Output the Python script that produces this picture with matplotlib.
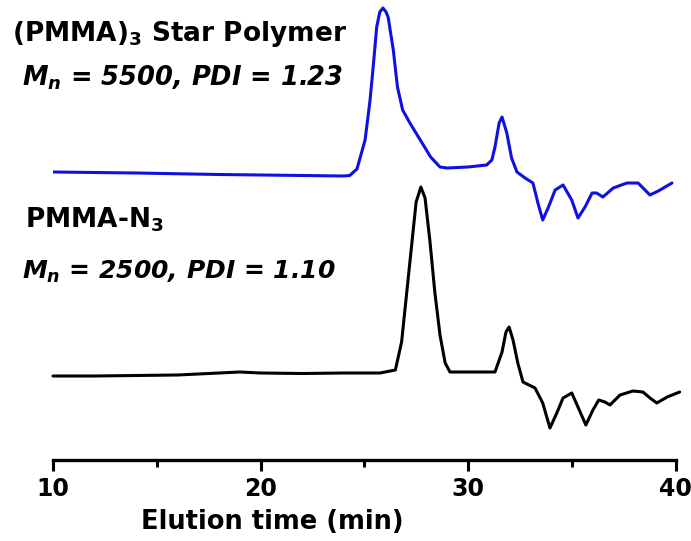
import numpy as np
import matplotlib.pyplot as plt

'''
Data read off the chromatogram (elution time in min, detector signal in a.u.)
'''
star_time = [10, 14, 18, 22, 24, 24.3, 24.65, 25.04, 25.28, 25.43, 25.6, 25.75,
             25.9, 26.05, 26.15, 26.4, 26.6, 26.85, 27.2, 27.7, 28.2, 28.65, 29.0,
             30.0, 30.9, 31.15, 31.3, 31.5, 31.64, 31.87, 32.1, 32.36, 32.75, 33.13,
             33.37, 33.6, 33.86, 34.2, 34.58, 35.0, 35.3, 35.64, 35.98, 36.2, 36.5,
             37.0, 37.66, 38.2, 38.53, 38.77, 39.17, 39.83]
star_signal = [2.88, 2.87, 2.855, 2.845, 2.84, 2.845, 2.91, 3.20, 3.60, 3.93, 4.33,
               4.48, 4.52, 4.48, 4.43, 4.10, 3.73, 3.50, 3.37, 3.20, 3.03, 2.93,
               2.92, 2.93, 2.95, 3.00, 3.13, 3.37, 3.43, 3.27, 3.02, 2.88, 2.82,
               2.77, 2.57, 2.40, 2.52, 2.70, 2.75, 2.60, 2.42, 2.53, 2.67, 2.67,
               2.63, 2.72, 2.77, 2.77, 2.70, 2.65, 2.69, 2.77]

azide_time = [10, 12, 14, 16, 18, 19, 20, 22, 24, 25.76, 26.5, 26.8, 27.05, 27.3,
              27.5, 27.73, 27.93, 28.17, 28.4, 28.65, 28.9, 29.13, 30.0, 31.3, 31.64,
              31.83, 31.98, 32.17, 32.4, 32.65, 33.23, 33.6, 33.95, 34.28, 34.58,
              35.0, 35.3, 35.68, 36.02, 36.3, 36.6, 36.84, 37.33, 37.95, 38.43,
              38.77, 39.1, 39.6, 40.2]
azide_signal = [0.84, 0.84, 0.845, 0.85, 0.87, 0.88, 0.87, 0.865, 0.87, 0.87, 0.90,
                1.18, 1.68, 2.18, 2.58, 2.73, 2.62, 2.18, 1.68, 1.25, 0.97, 0.88,
                0.88, 0.88, 1.08, 1.28, 1.33, 1.20, 0.97, 0.78, 0.72, 0.57, 0.32,
                0.47, 0.62, 0.67, 0.53, 0.35, 0.50, 0.60, 0.58, 0.55, 0.65, 0.69,
                0.68, 0.62, 0.57, 0.63, 0.68]

x_ticks = [10, 20, 30, 40]

plt.rcParams['font.family'] = 'DejaVu Sans'
plt.rcParams['mathtext.fontset'] = 'custom'
plt.rcParams['mathtext.rm'] = 'DejaVu Sans:bold'
plt.rcParams['mathtext.it'] = 'DejaVu Sans:italic:bold'

fig = plt.figure(figsize=(6.91, 5.41), dpi=100)
ax = fig.add_axes([53/691, 1 - 460/541, (675.5 - 53)/691, 460/541])

ax.plot(star_time, star_signal, color='#1010e0', lw=2.2,
        solid_joinstyle='round', solid_capstyle='round')
ax.plot(azide_time, azide_signal, color='black', lw=2.2, clip_on=False,
        solid_joinstyle='round', solid_capstyle='round')

ax.set_xlim(10, 40)
ax.set_ylim(0, 4.6)
for s in ['left', 'right', 'top']:
    ax.spines[s].set_visible(False)
ax.spines['bottom'].set_linewidth(2.4)
ax.set_xticks(x_ticks)
ax.set_xticks(np.arange(15, 40, 10), minor=True)
ax.set_yticks([])
ax.tick_params(axis='x', which='major', length=8, width=2.2, direction='out', pad=4)
ax.tick_params(axis='x', which='minor', length=5, width=2.2, direction='out')
for lab in ax.get_xticklabels():
    lab.set_fontsize(17)
    lab.set_fontweight('bold')
ax.set_xlabel('Elution time (min)', fontsize=18.5, fontweight='bold',
              ha='center', va='center')
ax.xaxis.set_label_coords(0.353, -62/460)

'''
Annotations
'''
fig.text(12/691, 1 - 41/541, r'(PMMA)$_3$ Star Polymer', fontsize=19, fontweight='bold')
fig.text(22/691, 1 - 86/541, r'$M_n$ = 5500, PDI = 1.23', fontsize=18.5,
         fontweight='bold', style='italic')
fig.text(25/691, 1 - 228/541, r'PMMA-N$_3$', fontsize=19, fontweight='bold')
fig.text(22/691, 1 - 279/541, r'$M_n$ = 2500, PDI = 1.10', fontsize=18,
         fontweight='bold', style='italic')

fig.savefig('out.png', dpi=100)
